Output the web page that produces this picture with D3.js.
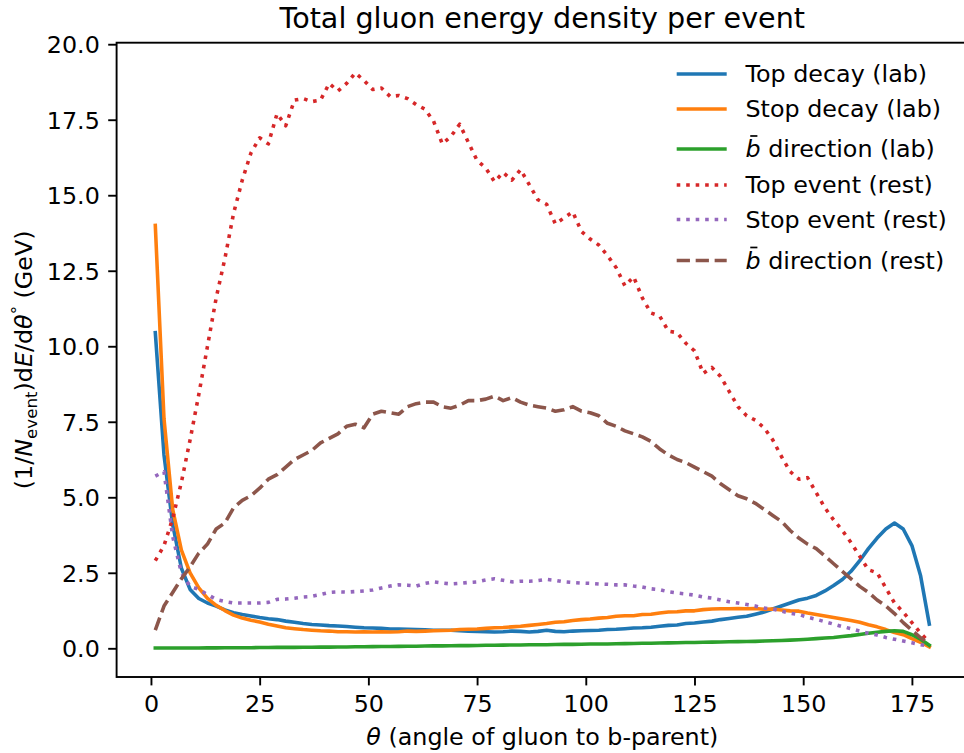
<!DOCTYPE html>
<html>
<head>
<meta charset="utf-8">
<script src="https://cdn.jsdelivr.net/npm/d3@7"></script>
<style>
  html, body { margin: 0; padding: 0; background: #fff; }
  svg { display: block; font-family: "DejaVu Sans", sans-serif; }
</style>
</head>
<body>
<svg id="chart" width="964" height="753"></svg>
<script>
// Gluon energy density versus angle to the b-parent, 2-degree bins
const theta = [1,3,5,7,9,11,13,15,17,19,21,23,25,27,29,31,33,35,37,39,41,43,45,47,49,
  51,53,55,57,59,61,63,65,67,69,71,73,75,77,79,81,83,85,87,89,91,93,95,97,99,
  101,103,105,107,109,111,113,115,117,119,121,123,125,127,129,131,133,135,137,139,
  141,143,145,147,149,151,153,155,157,159,161,163,165,167,169,171,173,175,177,179];

const topDecayLab = [10.45,6.4,4.1,2.65,1.95,1.65,1.5,1.4,1.27,1.18,1.12,1.07,1.02,0.98,0.95,
  0.9,0.86,0.82,0.79,0.77,0.75,0.74,0.72,0.7,0.68,0.67,0.66,0.64,0.64,0.63,
  0.62,0.61,0.6,0.6,0.6,0.58,0.57,0.56,0.55,0.54,0.55,0.57,0.56,0.54,0.56,
  0.6,0.56,0.55,0.57,0.58,0.59,0.6,0.62,0.63,0.65,0.67,0.68,0.7,0.73,0.76,
  0.77,0.82,0.84,0.87,0.9,0.95,0.99,1.03,1.06,1.13,1.2,1.3,1.4,1.5,1.6,
  1.66,1.75,1.9,2.08,2.28,2.55,2.9,3.3,3.65,3.95,4.15,3.95,3.4,2.4,0.8];

const stopDecayLab = [14.0,7.6,4.6,3.25,2.5,2.0,1.65,1.42,1.25,1.1,1.0,0.93,0.87,0.8,0.74,
  0.68,0.65,0.62,0.6,0.58,0.57,0.55,0.55,0.54,0.55,0.54,0.55,0.54,0.55,0.57,
  0.56,0.57,0.58,0.59,0.6,0.62,0.63,0.64,0.66,0.68,0.69,0.71,0.73,0.76,0.79,
  0.82,0.86,0.88,0.92,0.95,0.97,1.0,1.02,1.06,1.08,1.08,1.12,1.13,1.17,1.2,
  1.21,1.24,1.24,1.28,1.3,1.31,1.31,1.32,1.31,1.32,1.29,1.3,1.27,1.24,1.23,
  1.17,1.12,1.07,1.02,0.97,0.92,0.86,0.78,0.71,0.62,0.52,0.45,0.32,0.2,0.05];

const bbarLab = [0.01,0.01,0.01,0.01,0.01,0.01,0.015,0.015,0.02,0.02,0.02,0.02,0.025,0.025,0.03,
  0.03,0.03,0.035,0.035,0.04,0.04,0.045,0.045,0.05,0.05,0.055,0.06,0.06,0.065,0.07,
  0.07,0.075,0.08,0.08,0.085,0.09,0.09,0.095,0.1,0.1,0.105,0.11,0.11,0.115,0.12,
  0.12,0.125,0.13,0.13,0.135,0.14,0.14,0.145,0.15,0.155,0.16,0.165,0.17,0.175,0.18,
  0.185,0.19,0.195,0.2,0.205,0.21,0.215,0.22,0.225,0.23,0.24,0.25,0.26,0.27,0.285,
  0.3,0.32,0.34,0.36,0.39,0.42,0.46,0.5,0.53,0.56,0.58,0.56,0.45,0.3,0.1];

const topEventRest = [2.9,3.4,4.3,5.5,6.9,8.4,10.0,11.6,12.9,14.4,15.5,16.4,16.9,16.7,17.7,
  17.3,18.15,18.2,18.1,18.15,18.7,18.45,18.7,19.05,18.8,18.5,18.55,18.27,18.3,18.2,
  18.0,17.85,17.45,16.7,16.95,17.35,16.75,16.15,15.9,15.45,15.75,15.5,15.85,15.35,14.85,
  14.7,14.05,14.25,14.45,13.8,13.55,13.35,13.0,12.6,12.0,12.3,11.6,11.1,11.0,10.5,
  10.45,10.1,9.85,9.1,9.3,9.0,8.5,8.0,7.7,7.55,7.3,6.9,6.35,5.85,5.6,
  5.65,5.15,4.65,4.25,3.9,3.5,3.05,2.6,2.5,2.0,1.5,1.2,0.85,0.5,0.2];

const stopEventRest = [5.7,5.85,3.7,2.5,2.05,1.95,1.78,1.62,1.55,1.5,1.5,1.5,1.5,1.52,1.62,
  1.63,1.66,1.7,1.72,1.78,1.85,1.87,1.86,1.88,1.9,1.93,2.0,2.06,2.1,2.09,
  2.06,2.15,2.2,2.16,2.13,2.15,2.18,2.2,2.26,2.3,2.25,2.2,2.22,2.22,2.24,
  2.28,2.25,2.2,2.18,2.16,2.15,2.13,2.12,2.1,2.1,2.06,2.03,1.97,1.94,1.87,
  1.83,1.8,1.76,1.7,1.66,1.6,1.54,1.5,1.45,1.4,1.33,1.3,1.23,1.16,1.12,
  1.03,0.96,0.88,0.8,0.72,0.65,0.57,0.5,0.44,0.36,0.3,0.24,0.18,0.12,0.07];

const bbarRest = [0.6,1.4,1.85,2.3,2.7,3.15,3.45,3.95,4.15,4.65,4.9,5.05,5.3,5.6,5.75,
  6.0,6.25,6.4,6.55,6.8,6.95,7.1,7.35,7.42,7.3,7.75,7.85,7.8,7.75,8.0,
  8.1,8.15,8.15,8.0,7.95,8.05,8.2,8.2,8.25,8.35,8.2,8.3,8.15,8.05,8.0,
  7.95,7.85,7.9,8.0,7.85,7.8,7.7,7.45,7.35,7.2,7.1,7.0,6.85,6.6,6.4,
  6.25,6.15,6.0,5.85,5.7,5.45,5.25,5.05,4.95,4.8,4.6,4.4,4.2,3.9,3.65,
  3.45,3.3,3.05,2.8,2.55,2.3,2.05,1.85,1.6,1.4,1.15,0.85,0.6,0.35,0.15];

const xTicks = [0, 25, 50, 75, 100, 125, 150, 175];
const yTicks = [0, 2.5, 5, 7.5, 10, 12.5, 15, 17.5, 20];

const seriesNames = ["Top decay (lab)", "Stop decay (lab)", "direction (lab)",
  "Top event (rest)", "Stop event (rest)", "direction (rest)"];
const seriesValues = [topDecayLab, stopDecayLab, bbarLab, topEventRest, stopEventRest, bbarRest];
const seriesColors = ["#1f77b4", "#ff7f0e", "#2ca02c", "#d62728", "#9467bd", "#8c564b"];
const seriesBbar = [false, false, true, false, true, true].map((_, i) => i === 2 || i === 5);

// line widths and dash patterns at 1.5pt on a ~172 dpi canvas
const LW = 3.58;
const styles = ["solid", "solid", "solid", "dotted", "dotted", "dashed"];
const dashFor = s => s === "dotted" ? `${1 * LW} ${1.65 * LW}` :
                     s === "dashed" ? `${3.7 * LW} ${1.6 * LW}` : null;

const FS = 23.8;
const ax = { left: 116.6, top: 42.7, right: 968, bottom: 677 };

const svg = d3.select("#chart");
svg.append("rect").attr("width", 964).attr("height", 753).attr("fill", "#fff");

const x = d3.scaleLinear().domain([-7.9, 187.9]).range([ax.left, ax.right]);
const y = d3.scaleLinear().domain([-0.95, 20.05]).range([ax.bottom, ax.top]);

svg.append("clipPath").attr("id", "axclip").append("rect")
  .attr("x", ax.left).attr("y", ax.top)
  .attr("width", ax.right - ax.left).attr("height", ax.bottom - ax.top);

const line = d3.line().x(d => x(d[0])).y(d => y(d[1]));

const plot = svg.append("g").attr("clip-path", "url(#axclip)");
seriesValues.forEach((vals, i) => {
  const pts = theta.map((t, k) => [t, vals[k]]);
  const p = plot.append("path")
    .attr("d", line(pts))
    .attr("fill", "none")
    .attr("stroke", seriesColors[i])
    .attr("stroke-width", LW)
    .attr("stroke-linejoin", "round")
    .attr("stroke-linecap", styles[i] === "solid" ? "square" : "butt");
  const da = dashFor(styles[i]);
  if (da) p.attr("stroke-dasharray", da);
});

// axes
const xAxis = d3.axisBottom(x).tickValues(xTicks).tickSize(8.4).tickPadding(8.4)
  .tickFormat(d3.format("d"));
const gx = svg.append("g").attr("transform", `translate(0,${ax.bottom})`).call(xAxis);
gx.select(".domain").remove();
gx.selectAll(".tick line").attr("stroke", "#000").attr("stroke-width", 1.9);
gx.selectAll(".tick text").attr("font-size", FS).attr("font-family", "DejaVu Sans")
  .attr("fill", "#000").attr("dy", "0.76em");

const yAxis = d3.axisLeft(y).tickValues(yTicks).tickSize(8.4).tickPadding(8.4)
  .tickFormat(d3.format(".1f"));
const gy = svg.append("g").attr("transform", `translate(${ax.left},0)`).call(yAxis);
gy.select(".domain").remove();
gy.selectAll(".tick line").attr("stroke", "#000").attr("stroke-width", 1.9);
gy.selectAll(".tick text").attr("font-size", FS).attr("font-family", "DejaVu Sans")
  .attr("fill", "#000").attr("dy", "0.36em");

// spines
svg.append("rect")
  .attr("x", ax.left).attr("y", ax.top)
  .attr("width", ax.right - ax.left).attr("height", ax.bottom - ax.top)
  .attr("fill", "none").attr("stroke", "#000").attr("stroke-width", 1.9);

// title
svg.append("text")
  .attr("x", (ax.left + ax.right) / 2).attr("y", 28.4)
  .attr("text-anchor", "middle").attr("font-size", 28.6).attr("fill", "#000")
  .text("Total gluon energy density per event");

// x label
const xl = svg.append("text")
  .attr("x", (ax.left + ax.right) / 2).attr("y", 745)
  .attr("text-anchor", "middle").attr("font-size", FS).attr("fill", "#000");
xl.append("tspan").attr("font-style", "italic").text("θ");
xl.append("tspan").text(" (angle of gluon to b-parent)");

// y label
const yl = svg.append("text")
  .attr("transform", `translate(32,${(ax.top + ax.bottom) / 2}) rotate(-90)`)
  .attr("text-anchor", "middle").attr("font-size", FS).attr("fill", "#000");
yl.append("tspan").text("(1/");
yl.append("tspan").attr("font-style", "italic").text("N");
yl.append("tspan").attr("font-size", FS * 0.7).attr("dy", FS * 0.2).text("event");
yl.append("tspan").attr("dy", -FS * 0.2).text(")d");
yl.append("tspan").attr("font-style", "italic").text("E");
yl.append("tspan").text("/d");
yl.append("tspan").attr("font-style", "italic").text("θ");
yl.append("tspan").attr("font-size", FS * 0.7).attr("dy", -FS * 0.38).text("°");
yl.append("tspan").attr("dy", FS * 0.38).text(" (GeV)");

// legend
const legX0 = 676.7, legX1 = 726.7, legText = 745.5;
const rowY = [74, 109, 149, 185, 219.5, 260.5];
const leg = svg.append("g");
seriesNames.forEach((name, i) => {
  const ry = rowY[i];
  const h = leg.append("line")
    .attr("x1", legX0).attr("x2", legX1).attr("y1", ry).attr("y2", ry)
    .attr("stroke", seriesColors[i]).attr("stroke-width", LW)
    .attr("stroke-linecap", styles[i] === "solid" ? "butt" : "butt");
  const da = dashFor(styles[i]);
  if (da) h.attr("stroke-dasharray", da);
  const t = leg.append("text").attr("x", legText).attr("y", ry + 8.4)
    .attr("font-size", FS).attr("fill", "#000");
  if (seriesBbar[i]) {
    const b = t.append("tspan").attr("font-style", "italic").text("b");
    t.append("tspan").text(" " + name);
    // bar accent over the b
    leg.append("line")
      .attr("x1", legText + FS * 0.2).attr("x2", legText + FS * 0.5)
      .attr("y1", ry + 8.4 - FS * 0.9).attr("y2", ry + 8.4 - FS * 0.9)
      .attr("stroke", "#000").attr("stroke-width", 1.7);
  } else {
    t.text(name);
  }
});
</script>
</body>
</html>
